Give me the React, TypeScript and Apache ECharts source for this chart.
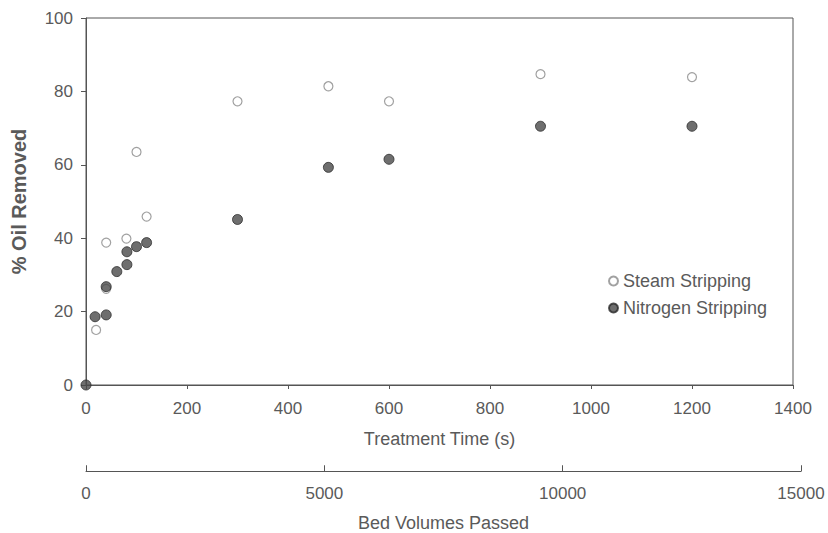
import React, { useEffect, useRef } from "react";
import * as echarts from "echarts";

const steamTime = [20, 40, 40, 80, 100, 120, 300, 480, 600, 900, 1200];
const steamOil = [15, 38.8, 26.2, 39.9, 63.5, 45.9, 77.3, 81.4, 77.3, 84.7, 83.9];

const nitrogenTime = [0, 18, 40, 40, 61, 81, 81, 100, 120, 300, 480, 600, 900, 1200];
const nitrogenOil = [0, 18.6, 19.1, 26.8, 30.9, 32.8, 36.3, 37.7, 38.8, 45.1, 59.3, 61.5, 70.5, 70.5];

const timeTicks = { min: 0, max: 1400, interval: 200 };
const bedTicks = { min: 0, max: 15000, interval: 5000 };
const oilTicks = { min: 0, max: 100, interval: 20 };

const seriesNames = ["Steam Stripping", "Nitrogen Stripping"];

export default function App() {
  const ref = useRef<HTMLDivElement>(null);
  useEffect(() => {
    if (!ref.current) return;
    const chart = echarts.init(ref.current, null, { renderer: "svg" });
    const font = "Liberation Sans, Arial, sans-serif";
    const textColor = "#5a5a5a";
    const lineColor = "#555";
    const plain = (v: number) => String(v);
    chart.setOption({
      animation: false,
      backgroundColor: "#fff",
      textStyle: { fontFamily: font },
      grid: [
        { left: 86, right: 35, top: 18, bottom: 148, show: true, borderColor: lineColor, borderWidth: 1 },
        { left: 86, right: 27, top: 471, height: 1 },
      ],
      legend: {
        orient: "vertical",
        left: 603,
        top: 267,
        itemWidth: 9,
        itemHeight: 9,
        itemGap: 9,
        icon: "circle",
        data: seriesNames,
        textStyle: { color: textColor, fontSize: 18, fontFamily: font },
      },
      xAxis: [
        {
          type: "value",
          gridIndex: 0,
          ...timeTicks,
          name: "Treatment Time (s)",
          nameLocation: "middle",
          nameGap: 45,
          nameTextStyle: { color: textColor, fontSize: 18, fontFamily: font },
          axisLine: { show: true, lineStyle: { color: lineColor } },
          axisTick: { show: true, length: 4, lineStyle: { color: lineColor } },
          axisLabel: { color: textColor, fontSize: 17, margin: 15, fontFamily: font, formatter: plain },
          splitLine: { show: false },
        },
        {
          type: "value",
          gridIndex: 1,
          position: "bottom",
          ...bedTicks,
          name: "Bed Volumes Passed",
          nameLocation: "middle",
          nameGap: 43,
          nameTextStyle: { color: textColor, fontSize: 18, fontFamily: font },
          axisLine: { show: true, lineStyle: { color: lineColor } },
          axisTick: { show: true, inside: true, length: 6, lineStyle: { color: lineColor } },
          axisLabel: { color: textColor, fontSize: 17, margin: 14, fontFamily: font, formatter: plain },
          splitLine: { show: false },
        },
      ],
      yAxis: [
        {
          type: "value",
          gridIndex: 0,
          ...oilTicks,
          name: "% Oil Removed",
          nameLocation: "middle",
          nameGap: 57,
          nameTextStyle: { color: textColor, fontSize: 20, fontWeight: "bold", fontFamily: font },
          axisLine: { show: true, lineStyle: { color: lineColor } },
          axisTick: { show: true, length: 5, lineStyle: { color: lineColor } },
          axisLabel: { color: textColor, fontSize: 17, margin: 13, fontFamily: font, formatter: plain },
          splitLine: { show: false },
        },
        {
          type: "value",
          gridIndex: 1,
          show: false,
          min: 0,
          max: 1,
        },
      ],
      series: [
        {
          name: seriesNames[0],
          type: "scatter",
          xAxisIndex: 0,
          yAxisIndex: 0,
          symbol: "circle",
          symbolSize: 9,
          data: steamTime.map((t, i) => [t, steamOil[i]]),
          itemStyle: { color: "#fff", borderColor: "#8a8a8a", borderWidth: 1.2 },
          z: 2,
        },
        {
          name: seriesNames[1],
          type: "scatter",
          xAxisIndex: 0,
          yAxisIndex: 0,
          symbol: "circle",
          symbolSize: 10,
          data: nitrogenTime.map((t, i) => [t, nitrogenOil[i]]),
          itemStyle: { color: "#4a4a4a", borderColor: "#2a2a2a", borderWidth: 1 },
          z: 3,
        },
      ],
    });
    return () => chart.dispose();
  }, []);
  return <div ref={ref} style={{ width: 828, height: 533, position: "absolute", left: 0, top: 0 }} />;
}
